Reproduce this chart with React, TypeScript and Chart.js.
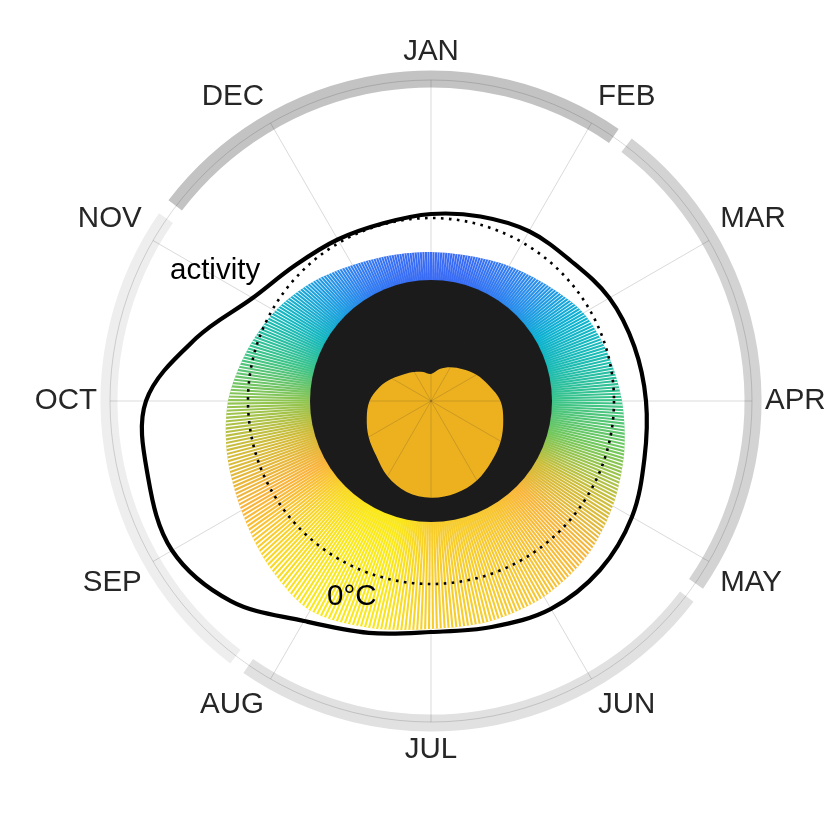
import React, { useEffect, useRef } from 'react';
import { Chart, registerables } from 'chart.js';

Chart.register(...registerables);

// Angular sampling (degrees clockwise from JAN at top)
const ANGLES_DEG = [0, 15, 30, 45, 60, 75, 90, 105, 120, 135, 150, 165, 180, 195, 210, 225, 240, 255, 270, 285, 300, 315, 330, 345];

// Radial values (chart radial units)
const ACTIVITY = [187, 191, 196, 198, 206, 210.5, 215, 221, 232, 239, 240, 234, 231, 240, 254, 283, 299, 293, 285, 243, 206, 192, 186.5, 184];
const TEMPERATURE = [149, 150, 156, 164, 176, 183, 191, 200, 210, 220, 226, 228, 228, 235, 242, 231, 219, 211, 203, 191, 180, 168, 157, 151];
const CORE = [27, 33, 39, 45, 52.5, 60, 69.5, 74.8, 80.5, 85.5, 91.7, 95.5, 96.7, 94.2, 87, 77.5, 72, 66.5, 61.5, 53.5, 44.8, 38, 33.5, 30];

const MONTHS = ['JAN', 'FEB', 'MAR', 'APR', 'MAY', 'JUN', 'JUL', 'AUG', 'SEP', 'OCT', 'NOV', 'DEC'];
// Season boundaries (degrees): winter, spring, summer, autumn start
const SEASON_START_DEG = [306, 36, 126, 216];
const SEASON_COLORS = ['#c3c3c3', '#d3d3d3', '#e1e1e1', '#eeeeee'];

const DAYS = 365;
const DISK_R = 121;
const ZERO_C_R = 183;
const OUTER_R = 321;
const SEASON_R = 322;
const LABEL_R = 334;
const R_MAX = 401;
const C_MIN = 135;
const C_MAX = 235;

const CMAP: [number, number, number, number][] = [
  [0.0, 62, 50, 200],
  [0.12, 60, 102, 245],
  [0.22, 50, 126, 242],
  [0.3, 36, 150, 232],
  [0.41, 12, 178, 210],
  [0.48, 28, 188, 180],
  [0.56, 60, 196, 138],
  [0.65, 115, 200, 92],
  [0.74, 200, 192, 58],
  [0.83, 250, 176, 60],
  [0.92, 247, 200, 48],
  [1.0, 250, 232, 26],
];

function cmap(t: number): string {
  t = Math.max(0, Math.min(1, t));
  for (let i = 1; i < CMAP.length; i++) {
    const a = CMAP[i - 1];
    const b = CMAP[i];
    if (t <= b[0]) {
      const f = (t - a[0]) / (b[0] - a[0]);
      const r = Math.round(a[1] + (b[1] - a[1]) * f);
      const g = Math.round(a[2] + (b[2] - a[2]) * f);
      const bl = Math.round(a[3] + (b[3] - a[3]) * f);
      return `rgb(${r},${g},${bl})`;
    }
  }
  const l = CMAP[CMAP.length - 1];
  return `rgb(${l[1]},${l[2]},${l[3]})`;
}

const colorFor = (v: number) => cmap((v - C_MIN) / (C_MAX - C_MIN));
const rad = (deg: number) => ((deg - 90) * Math.PI) / 180;
const GRID = 'rgba(38,38,38,0.17)';

function drawAngleLines(ctx: CanvasRenderingContext2D, cx: number, cy: number, r: number) {
  ctx.strokeStyle = GRID;
  ctx.lineWidth = 1;
  MONTHS.forEach((_, i) => {
    const a = rad(i * 30);
    ctx.beginPath();
    ctx.moveTo(cx, cy);
    ctx.lineTo(cx + r * Math.cos(a), cy + r * Math.sin(a));
    ctx.stroke();
  });
}

const decor = {
  id: 'decor',
  beforeDatasetsDraw(chart: any) {
    const s = chart.scales.r;
    const ctx = chart.ctx;
    const cx = s.xCenter;
    const cy = s.yCenter;
    ctx.save();
    const gap = 2.8;
    const bandR = s.getDistanceFromCenterForValue(SEASON_R);
    ctx.lineWidth = 17;
    ctx.lineCap = 'butt';
    for (let i = 0; i < 4; i++) {
      const a0 = SEASON_START_DEG[i] + gap / 2;
      let a1 = SEASON_START_DEG[(i + 1) % 4] - gap / 2;
      if (a1 < a0) a1 += 360;
      ctx.beginPath();
      ctx.strokeStyle = SEASON_COLORS[i];
      ctx.arc(cx, cy, bandR, rad(a0), rad(a1));
      ctx.stroke();
    }
    const outer = s.getDistanceFromCenterForValue(OUTER_R);
    ctx.strokeStyle = GRID;
    ctx.lineWidth = 1;
    ctx.beginPath();
    ctx.arc(cx, cy, outer, 0, Math.PI * 2);
    ctx.stroke();
    drawAngleLines(ctx, cx, cy, outer);
    ctx.restore();
  },
  afterDatasetDraw(chart: any, args: any) {
    const s = chart.scales.r;
    const ctx = chart.ctx;
    const cx = s.xCenter;
    const cy = s.yCenter;
    const disk = s.getDistanceFromCenterForValue(DISK_R);
    if (args.index === 2) {
      // daily stripe texture of the temperature fan
      const meta = chart.getDatasetMeta(2);
      ctx.save();
      ctx.beginPath();
      meta.dataset.path(ctx);
      ctx.closePath();
      ctx.clip();
      ctx.fillStyle = '#ffffff';
      const rOut = s.getDistanceFromCenterForValue(270);
      const lw = 2.1;
      for (let k = 0; k < DAYS; k++) {
        const phi = rad(((k + 0.5) * 360) / DAYS);
        const wIn = Math.max(0, (2 * Math.PI * disk) / DAYS - lw) / 2;
        const wOut = Math.max(0, (2 * Math.PI * rOut) / DAYS - lw) / 2;
        const ux = Math.cos(phi);
        const uy = Math.sin(phi);
        const px = -uy;
        const py = ux;
        ctx.beginPath();
        ctx.moveTo(cx + ux * disk + px * wIn, cy + uy * disk + py * wIn);
        ctx.lineTo(cx + ux * rOut + px * wOut, cy + uy * rOut + py * wOut);
        ctx.lineTo(cx + ux * rOut - px * wOut, cy + uy * rOut - py * wOut);
        ctx.lineTo(cx + ux * disk - px * wIn, cy + uy * disk - py * wIn);
        ctx.closePath();
        ctx.fill();
      }
      ctx.restore();
      ctx.save();
      ctx.beginPath();
      ctx.arc(cx, cy, disk, 0, Math.PI * 2);
      ctx.fillStyle = '#1b1b1b';
      ctx.fill();
      ctx.restore();
    }
    if (args.index === 1) {
      ctx.save();
      drawAngleLines(ctx, cx, cy, disk);
      ctx.restore();
    }
  },
  afterDatasetsDraw(chart: any) {
    const s = chart.scales.r;
    const ctx = chart.ctx;
    const cx = s.xCenter;
    const cy = s.yCenter;
    ctx.save();
    ctx.strokeStyle = '#000';
    ctx.lineWidth = 2.6;
    ctx.setLineDash([2.6, 5.4]);
    ctx.beginPath();
    ctx.arc(cx, cy, s.getDistanceFromCenterForValue(ZERO_C_R), 0, Math.PI * 2);
    ctx.stroke();
    ctx.setLineDash([]);
    const labelR = s.getDistanceFromCenterForValue(LABEL_R);
    ctx.font = '29.5px "Liberation Sans", Arial, Helvetica, sans-serif';
    ctx.fillStyle = '#262626';
    MONTHS.forEach((m, i) => {
      const deg = i * 30;
      const sn = Math.sin((deg * Math.PI) / 180);
      const cs = Math.cos((deg * Math.PI) / 180);
      ctx.textAlign = Math.abs(sn) < 0.01 ? 'center' : sn > 0 ? 'left' : 'right';
      ctx.textBaseline = Math.abs(cs) < 0.01 ? 'middle' : cs > 0 ? 'bottom' : 'top';
      const a = rad(deg);
      ctx.fillText(m, cx + labelR * Math.cos(a), cy + labelR * Math.sin(a));
    });
    ctx.fillStyle = '#000';
    ctx.textAlign = 'left';
    ctx.textBaseline = 'alphabetic';
    ctx.fillText('activity', cx - 261, cy - 122);
    ctx.fillText('0°C', cx - 104, cy + 204);
    ctx.restore();
  },
};

export default function App() {
  const ref = useRef<HTMLCanvasElement>(null);
  useEffect(() => {
    const chart = new Chart(ref.current as HTMLCanvasElement, {
      type: 'radar',
      data: {
        labels: ANGLES_DEG.map((a) => String(a)),
        datasets: [
          {
            label: 'activity',
            data: ACTIVITY,
            borderColor: '#000',
            borderWidth: 4.2,
            fill: false,
            tension: 0.35,
            pointRadius: 0,
            order: 0,
          },
          {
            label: 'core',
            data: CORE,
            borderWidth: 0,
            borderColor: 'rgba(0,0,0,0)',
            backgroundColor: '#edb120',
            fill: 'origin',
            tension: 0.35,
            pointRadius: 0,
            order: 1,
          },
          {
            label: 'temperature',
            data: TEMPERATURE,
            borderWidth: 0,
            borderColor: 'rgba(0,0,0,0)',
            backgroundColor: (c: any) => {
              const chart = c.chart;
              const s = chart.scales && chart.scales.r;
              if (!s || !isFinite(s.xCenter)) return 'rgba(0,0,0,0)';
              const g = chart.ctx.createConicGradient(-Math.PI / 2, s.xCenter, s.yCenter);
              TEMPERATURE.forEach((v, i) => g.addColorStop(ANGLES_DEG[i] / 360, colorFor(v)));
              g.addColorStop(1, colorFor(TEMPERATURE[0]));
              return g;
            },
            fill: 'origin',
            tension: 0.3,
            pointRadius: 0,
            order: 2,
          },
        ],
      } as any,
      options: {
        animation: false,
        responsive: true,
        maintainAspectRatio: false,
        layout: { padding: { left: 29, right: 0, top: 0, bottom: 31 } },
        plugins: { legend: { display: false }, tooltip: { enabled: false } },
        scales: {
          r: {
            min: 0,
            max: R_MAX,
            ticks: { display: false },
            grid: { display: false },
            angleLines: { display: false },
            pointLabels: { display: false },
          },
        },
      } as any,
      plugins: [decor],
    });
    return () => chart.destroy();
  }, []);
  return (
    <div style={{ position: 'absolute', left: 0, top: 0, width: 833, height: 833, background: '#fff' }}>
      <canvas ref={ref} />
    </div>
  );
}
